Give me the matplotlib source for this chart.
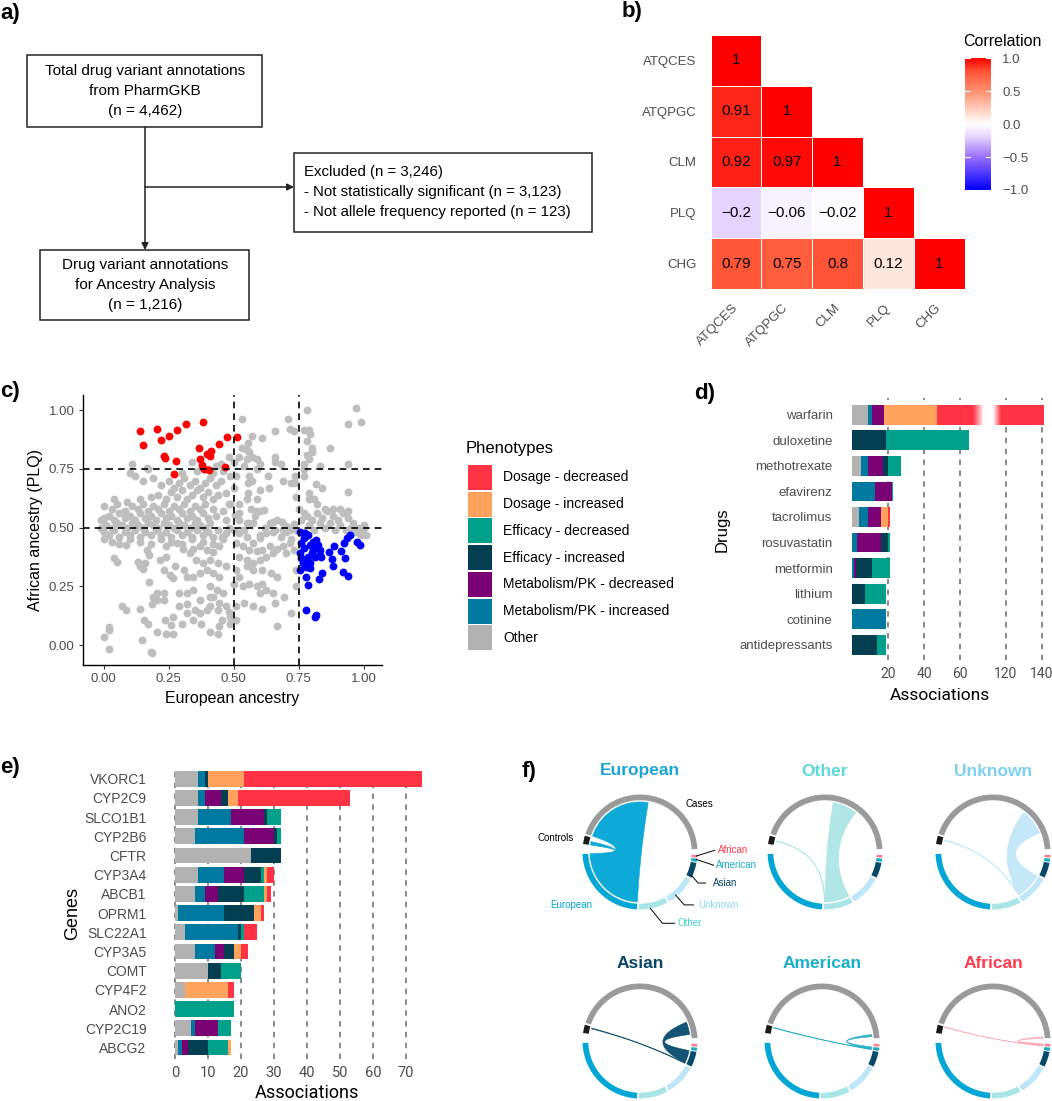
import numpy as np
import matplotlib
matplotlib.use('Agg')
import matplotlib.pyplot as plt
from matplotlib.patches import Rectangle, Wedge, Polygon
from matplotlib.colors import LinearSegmentedColormap

plt.rcParams['font.family'] = ['Liberation Sans', 'DejaVu Sans']
plt.rcParams['axes.unicode_minus'] = True

W, H = 1052, 1101
fig = plt.figure(figsize=(W / 100, H / 100), dpi=100)


def px_axes(l, t, r, b):
    return fig.add_axes([l / W, 1 - b / H, (r - l) / W, (b - t) / H])


GREY_TXT = '#4D4D4D'
ROBOTO = ['Roboto', 'DejaVu Sans']

# ---------------- data ----------------
corr_labels = ['ATQCES', 'ATQPGC', 'CLM', 'PLQ', 'CHG']
corr_rows = [[1],
             [0.91, 1],
             [0.92, 0.97, 1],
             [-0.2, -0.06, -0.02, 1],
             [0.79, 0.75, 0.8, 0.12, 1]]

red_pts = [(0.138, 0.912), (0.149, 0.850), (0.206, 0.918), (0.219, 0.872), (0.251, 0.889),
           (0.282, 0.915), (0.317, 0.939), (0.382, 0.948), (0.233, 0.804), (0.237, 0.794),
           (0.277, 0.784), (0.269, 0.728), (0.365, 0.838), (0.369, 0.790), (0.412, 0.827),
           (0.397, 0.813), (0.408, 0.804), (0.376, 0.766), (0.385, 0.748), (0.444, 0.857),
           (0.474, 0.887), (0.513, 0.887), (0.465, 0.756), (0.405, 0.745)]

blue_pts = [(0.754, 0.482), (0.773, 0.478), (0.760, 0.433), (0.769, 0.411), (0.792, 0.426),
            (0.805, 0.440), (0.815, 0.447), (0.824, 0.426), (0.831, 0.383), (0.837, 0.376),
            (0.799, 0.390), (0.786, 0.376), (0.760, 0.369), (0.767, 0.348), (0.777, 0.333),
            (0.792, 0.326), (0.754, 0.319), (0.779, 0.288), (0.786, 0.255), (0.828, 0.279),
            (0.841, 0.308), (0.867, 0.397), (0.877, 0.365), (0.882, 0.336), (0.887, 0.421),
            (0.913, 0.401), (0.923, 0.433), (0.929, 0.369), (0.921, 0.312), (0.940, 0.294),
            (0.936, 0.454), (0.946, 0.468), (0.974, 0.440), (0.985, 0.426), (0.776, 0.149),
            (0.812, 0.121), (0.818, 0.128), (0.805, 0.404), (0.812, 0.376), (0.773, 0.362),
            (0.792, 0.348), (0.756, 0.390), (0.833, 0.404), (0.769, 0.454), (0.786, 0.468),
            (0.818, 0.418)]

grey_pts = [
    (-0.01, 0.50), (-0.01, 0.53), (0.00, 0.48), (0.02, 0.47), (0.04, 0.49), (0.06, 0.46), (0.08, 0.48),
    (0.10, 0.47), (0.12, 0.49), (0.14, 0.46), (0.16, 0.48), (0.18, 0.47), (0.20, 0.49), (0.22, 0.47),
    (0.24, 0.48), (0.26, 0.46), (0.28, 0.49), (0.30, 0.47), (0.32, 0.48), (0.34, 0.46), (0.36, 0.49),
    (0.38, 0.47), (0.40, 0.48), (0.42, 0.46), (0.44, 0.49),
    (0.01, 0.51), (0.03, 0.50), (0.05, 0.52), (0.07, 0.51), (0.09, 0.50), (0.11, 0.52), (0.13, 0.51),
    (0.15, 0.50), (0.17, 0.52), (0.19, 0.51), (0.21, 0.50), (0.23, 0.52), (0.25, 0.51), (0.27, 0.50),
    (0.29, 0.52), (0.31, 0.51), (0.33, 0.50), (0.35, 0.52), (0.37, 0.51), (0.39, 0.50), (0.41, 0.52),
    (0.00, 0.54), (0.02, 0.55), (0.04, 0.53), (0.06, 0.56), (0.08, 0.54), (0.10, 0.55), (0.12, 0.53),
    (0.14, 0.56), (0.16, 0.54), (0.18, 0.55), (0.20, 0.53), (0.22, 0.56), (0.24, 0.54), (0.26, 0.55),
    (0.28, 0.53), (0.30, 0.56), (0.32, 0.54), (0.34, 0.55), (0.36, 0.53), (0.38, 0.56), (0.40, 0.54),
    (0.43, 0.55),
    (0.00, 0.59), (0.03, 0.58), (0.05, 0.60), (0.08, 0.57), (0.11, 0.59), (0.13, 0.58), (0.15, 0.60),
    (0.17, 0.57), (0.19, 0.59), (0.21, 0.58), (0.23, 0.60), (0.25, 0.57), (0.27, 0.59), (0.29, 0.58),
    (0.31, 0.60), (0.33, 0.57), (0.35, 0.59), (0.37, 0.58), (0.39, 0.60), (0.42, 0.58),
    (0.04, 0.62), (0.09, 0.61), (0.14, 0.62), (0.18, 0.63), (0.21, 0.64), (0.24, 0.62), (0.26, 0.65),
    (0.28, 0.63), (0.30, 0.66), (0.32, 0.62), (0.34, 0.64), (0.36, 0.66), (0.38, 0.63), (0.40, 0.65),
    (0.42, 0.62), (0.44, 0.64),
    (0.22, 0.68), (0.25, 0.70), (0.27, 0.67), (0.29, 0.69), (0.31, 0.71), (0.33, 0.68), (0.35, 0.70),
    (0.37, 0.67), (0.39, 0.69), (0.41, 0.71), (0.43, 0.68), (0.45, 0.70), (0.19, 0.71), (0.15, 0.70),
    (0.10, 0.73), (0.12, 0.72),
    (0.30, 0.73), (0.36, 0.74), (0.40, 0.75), (0.42, 0.73), (0.46, 0.74), (0.45, 0.77), (0.43, 0.76),
    (0.11, 0.77), (0.17, 0.75), (0.34, 0.78),
    (0.00, 0.45), (0.03, 0.44), (0.06, 0.43), (0.10, 0.45), (0.14, 0.44), (0.18, 0.43), (0.22, 0.45),
    (0.26, 0.44), (0.30, 0.43), (0.34, 0.45), (0.38, 0.44), (0.42, 0.43), (0.46, 0.45), (0.48, 0.50),
    (0.47, 0.53), (0.46, 0.57), (0.48, 0.60),
    (0.97, 1.01), (0.78, 1.00), (0.53, 0.96), (0.71, 0.96), (0.94, 0.94), (0.99, 0.95), (0.715, 0.92),
    (0.73, 0.91), (0.77, 0.915), (0.79, 0.915), (0.795, 0.90), (0.66, 0.91), (0.57, 0.89), (0.61, 0.88),
    (0.53, 0.84), (0.55, 0.83), (0.555, 0.86), (0.56, 0.82), (0.52, 0.80), (0.55, 0.79), (0.57, 0.80),
    (0.59, 0.79), (0.60, 0.77), (0.66, 0.80), (0.68, 0.77), (0.54, 0.76), (0.48, 0.80), (0.50, 0.78),
    (0.165, 0.755), (0.78, 0.87), (0.80, 0.84), (0.80, 0.82), (0.78, 0.81), (0.87, 0.84), (0.77, 0.77),
    (0.79, 0.79), (0.77, 0.75), (0.83, 0.76), (0.94, 0.77), (0.735, 0.72), (0.735, 0.69), (0.77, 0.72),
    (0.815, 0.685), (0.84, 0.67), (0.79, 0.645), (0.79, 0.62), (0.81, 0.62), (0.94, 0.65), (0.77, 0.56),
    (0.75, 0.58), (0.73, 0.515), (0.74, 0.49), (1.01, 0.47), (1.00, 0.51),
    (0.555, 0.645), (0.59, 0.62), (0.565, 0.58), (0.59, 0.57), (0.615, 0.575), (0.555, 0.69), (0.60, 0.66),
    (0.635, 0.67), (0.56, 0.72), (0.51, 0.72), (0.485, 0.72), (0.50, 0.67), (0.47, 0.645), (0.485, 0.60),
    (0.505, 0.555), (0.52, 0.53), (0.55, 0.52), (0.575, 0.52), (0.65, 0.525), (0.665, 0.53), (0.685, 0.525),
    (0.70, 0.505), (0.715, 0.49), (0.69, 0.49), (0.65, 0.48), (0.625, 0.475), (0.60, 0.455), (0.575, 0.435),
    (0.55, 0.46), (0.52, 0.475), (0.50, 0.49), (0.47, 0.475), (0.455, 0.46), (0.51, 0.435), (0.535, 0.42),
    (0.56, 0.405), (0.59, 0.40), (0.61, 0.405), (0.64, 0.42), (0.665, 0.41), (0.69, 0.42), (0.70, 0.39),
    (0.715, 0.435), (0.73, 0.405), (0.52, 0.375), (0.55, 0.36), (0.575, 0.35), (0.60, 0.36), (0.625, 0.375),
    (0.65, 0.39), (0.55, 0.335), (0.575, 0.32), (0.61, 0.32), (0.645, 0.305), (0.665, 0.29), (0.51, 0.32),
    (0.52, 0.29), (0.50, 0.26), (0.535, 0.25), (0.56, 0.26), (0.59, 0.25), (0.61, 0.26), (0.60, 0.22),
    (0.625, 0.235), (0.65, 0.22), (0.695, 0.205), (0.66, 0.18), (0.61, 0.155), (0.575, 0.165), (0.54, 0.18),
    (0.51, 0.165), (0.485, 0.12), (0.51, 0.105), (0.485, 0.09), (0.665, 0.08), (0.72, 0.135), (0.74, 0.25),
    (0.74, 0.32),
    (0.41, 0.25), (0.435, 0.235), (0.46, 0.22), (0.42, 0.205), (0.445, 0.18), (0.47, 0.165), (0.41, 0.165),
    (0.44, 0.15), (0.48, 0.14), (0.455, 0.105), (0.445, 0.08), (0.41, 0.055), (0.44, 0.045), (0.37, 0.135),
    (0.345, 0.105), (0.375, 0.09), (0.35, 0.15), (0.32, 0.175), (0.29, 0.165), (0.32, 0.135), (0.265, 0.12),
    (0.30, 0.09), (0.26, 0.085), (0.235, 0.105), (0.265, 0.045), (0.24, 0.045), (0.205, 0.055), (0.17, 0.09),
    (0.155, 0.105), (0.145, 0.02), (0.18, -0.03), (0.185, -0.035), (0.02, 0.075), (0.02, 0.065), (0.0, 0.035),
    (0.02, -0.015), (0.07, 0.165), (0.085, 0.15), (0.14, 0.155), (0.19, 0.205), (0.205, 0.19), (0.23, 0.19),
    (0.185, 0.175), (0.23, 0.22), (0.205, 0.22), (0.29, 0.22), (0.32, 0.22), (0.345, 0.235), (0.37, 0.19),
    (0.395, 0.15), (0.41, 0.205), (0.175, 0.27), (0.255, 0.30), (0.265, 0.285), (0.32, 0.29), (0.345, 0.29),
    (0.37, 0.305), (0.395, 0.32), (0.42, 0.305), (0.445, 0.29), (0.38, 0.35), (0.41, 0.36), (0.44, 0.35),
    (0.47, 0.335), (0.355, 0.36), (0.33, 0.39), (0.305, 0.41), (0.28, 0.435), (0.24, 0.42), (0.24, 0.375),
    (0.275, 0.335), (0.215, 0.36), (0.165, 0.405), (0.175, 0.385), (0.16, 0.35), (0.13, 0.355), (0.14, 0.335),
    (0.15, 0.325), (0.04, 0.37), (0.05, 0.355), (0.085, 0.425), (0.345, 0.41), (0.37, 0.42), (0.395, 0.405),
    (0.42, 0.395), (0.445, 0.42), (0.31, 0.32), (0.23, 0.32),
    (0.78, 0.55), (0.80, 0.53), (0.82, 0.56), (0.84, 0.54), (0.86, 0.57), (0.88, 0.55), (0.90, 0.53),
    (0.92, 0.56), (0.94, 0.54), (0.96, 0.52), (0.98, 0.50), (0.79, 0.51), (0.81, 0.49), (0.83, 0.52),
    (0.85, 0.50), (0.87, 0.52), (0.89, 0.49), (0.91, 0.51), (0.93, 0.49), (0.95, 0.50), (0.97, 0.48),
    (0.99, 0.47), (0.85, 0.58), (0.88, 0.58), (0.91, 0.58), (0.94, 0.57), (0.82, 0.60), (0.76, 0.53),
    (0.77, 0.48), (1.00, 0.50),
    (0.60, 0.47), (0.62, 0.50), (0.64, 0.52), (0.66, 0.49), (0.68, 0.46), (0.70, 0.48), (0.72, 0.45),
    (0.73, 0.50), (0.56, 0.52), (0.58, 0.55), (0.60, 0.57), (0.52, 0.56), (0.54, 0.49), (0.52, 0.60),
    (0.55, 0.62), (0.57, 0.70), (0.59, 0.75), (0.63, 0.72), (0.66, 0.78), (0.69, 0.70), (0.72, 0.69),
    (0.74, 0.63)]

pheno_names = ['Dosage - decreased', 'Dosage - increased', 'Efficacy - decreased',
               'Efficacy - increased', 'Metabolism/PK - decreased', 'Metabolism/PK - increased', 'Other']
pheno_colors = ['#FF3344', '#FFA35C', '#00A08A', '#033F50', '#7B0275', '#0079A0', '#B2B2B2']

drugs = ['warfarin', 'duloxetine', 'methotrexate', 'efavirenz', 'tacrolimus', 'rosuvastatin',
         'metformin', 'lithium', 'cotinine', 'antidepressants']
d_other = [9, 0, 5, 0, 4, 0, 0, 0, 0, 0]
d_mpk_inc = [2, 0, 4, 13, 5, 3, 1, 0, 19, 0]
d_mpk_dec = [7, 0, 8, 9, 7, 13, 1, 0, 0, 0]
d_eff_inc = [0, 19, 3, 0, 0, 4, 9, 7, 0, 14]
d_eff_dec = [0, 46, 7, 1, 0, 1, 10, 12, 0, 5]
d_dos_inc = [29, 0, 0, 0, 4, 0, 0, 0, 0, 0]
d_dos_dec = [94, 0, 0, 0, 1, 0, 0, 0, 0, 0]

genes = ['VKORC1', 'CYP2C9', 'SLCO1B1', 'CYP2B6', 'CFTR', 'CYP3A4', 'ABCB1', 'OPRM1',
         'SLC22A1', 'CYP3A5', 'COMT', 'CYP4F2', 'ANO2', 'CYP2C19', 'ABCG2']
e_other = [7, 7, 7, 6, 23, 7, 6, 1, 3, 6, 10, 3, 0, 5, 1]
e_mpk_inc = [2, 2, 10, 15, 0, 8, 3, 14, 16, 6, 0, 0, 0, 1, 1]
e_mpk_dec = [0, 5, 10, 9, 0, 6, 4, 0, 0, 3, 0, 0, 0, 7, 2]
e_eff_inc = [1, 2, 1, 1, 9, 5, 8, 9, 1, 3, 4, 0, 0, 0, 6]
e_eff_dec = [0, 0, 4, 1, 0, 1, 6, 0, 1, 0, 6, 0, 18, 4, 6]
e_dos_inc = [11, 3, 0, 0, 0, 1, 1, 2, 0, 2, 0, 13, 0, 0, 1]
e_dos_dec = [54, 34, 0, 0, 0, 2, 1, 1, 4, 2, 0, 2, 0, 0, 0]

anc_names = ['European', 'Other', 'Unknown', 'Asian', 'American', 'African']
anc_cases = [81, 28.5, 30, 14.5, 2.5, 2.0]
anc_ctrls = [4, 1, 1, 1, 0.8, 0.7]
anc_colors = ['#00A6D6', '#A8E5E4', '#BEE6F8', '#064A6B', '#1BAAC6', '#FF7C8A']
anc_title_colors = ['#1AA6D6', '#5CD8D6', '#7DD0F2', '#0A4566', '#1AAFC8', '#FF3B4E']
anc_link_alpha = [0.95, 0.9, 0.9, 0.95, 0.9, 0.5]

# ---------------- overlay (panel a, labels, legend) ----------------
ov = px_axes(0, 0, W, H)
ov.set_xlim(0, W)
ov.set_ylim(H, 0)
ov.axis('off')

for lab, x, y in [('a)', 0, 14), ('b)', 622, 11), ('c)', 0, 392), ('d)', 694, 393),
                  ('e)', 0, 767), ('f)', 522, 772)]:
    ov.text(x, y, lab, fontsize=16, fontweight='bold', ha='left', va='center')


def box(x0, y0, x1, y1):
    ov.add_patch(Rectangle((x0, y0), x1 - x0, y1 - y0, fill=False, lw=1.1, ec='#222222'))


box(27, 55, 262, 127)
for i, s in enumerate(['Total drug variant annotations', 'from PharmGKB', '(n = 4,462)']):
    ov.text(145, 71 + 20 * i, s, fontsize=11, ha='center', va='center')
box(294, 153, 592, 232)
for i, s in enumerate(['Excluded (n = 3,246)', '- Not statistically significant (n = 3,123)',
                       '- Not allele frequency reported (n = 123)']):
    ov.text(304, 172 + 20 * i, s, fontsize=10.8, ha='left', va='center')
box(40, 250, 249, 320)
for i, s in enumerate(['Drug variant annotations', 'for Ancestry Analysis', '(n = 1,216)']):
    ov.text(145, 265 + 20 * i, s, fontsize=11, ha='center', va='center')
arrow = dict(arrowstyle='-|>', lw=1.1, color='#222222', mutation_scale=10, shrinkA=0, shrinkB=0)
ov.annotate('', xy=(145, 250), xytext=(145, 127), arrowprops=arrow)
ov.annotate('', xy=(294, 187), xytext=(145, 187), arrowprops=arrow)

# legend of phenotypes
ov.text(466, 448, 'Phenotypes', fontsize=12, ha='left', va='center')
for i, (nm, col) in enumerate(zip(pheno_names, pheno_colors)):
    y0 = 465 + 26.7 * i
    ov.add_patch(Rectangle((468, y0), 24, 25, fc=col, ec='none'))
    ov.text(503, y0 + 12.5, nm, fontsize=10, ha='left', va='center')

# ---------------- panel b: correlation heatmap ----------------
corr_cmap = LinearSegmentedColormap.from_list(
    'corr', [(0, '#0000FF'), (0.25, '#9A70FF'), (0.4, '#E4D2FF'), (0.5, '#FFFFFF'),
             (0.56, '#FFE6DC'), (0.75, '#FF9070'), (0.9, '#FF5536'), (1, '#FF0000')])
n = len(corr_labels)
M = np.full((n, n), np.nan)
for i, row in enumerate(corr_rows):
    M[i, :len(row)] = row
axb = px_axes(710.7, 35, 964.5, 289)
axb.pcolormesh(np.arange(n + 1), np.arange(n + 1), np.ma.masked_invalid(M), cmap=corr_cmap,
               vmin=-1, vmax=1, edgecolors='white', linewidth=0.5)
axb.set_xlim(0, n)
axb.set_ylim(n, 0)
for i, row in enumerate(corr_rows):
    for j, v in enumerate(row):
        axb.text(j + 0.5, i + 0.5, f'{v:g}'.replace('-', '\u2212'), ha='center', va='center', fontsize=11)
axb.set_xticks(np.arange(n) + 0.5)
axb.set_xticklabels(corr_labels, rotation=45, ha='right', va='center', rotation_mode='anchor',
                    color=GREY_TXT, fontsize=9.5)
axb.set_yticks(np.arange(n) + 0.5)
axb.set_yticklabels(corr_labels, color=GREY_TXT, fontsize=9.5)
axb.tick_params(axis='y', length=0, pad=10)
axb.tick_params(axis='x', length=0, pad=12)
for s in axb.spines.values():
    s.set_visible(False)

axcb = px_axes(965, 58.3, 991, 190)
axcb.imshow(np.linspace(1, -1, 256).reshape(-1, 1), cmap=corr_cmap, vmin=-1, vmax=1,
            aspect='auto', extent=[0, 1, -1, 1])
cb_ticks = [1, 0.5, 0, -0.5, -1]
for t in cb_ticks:
    axcb.plot([0, 0.2], [t, t], color='white', lw=0.8)
    axcb.plot([0.8, 1], [t, t], color='white', lw=0.8)
axcb.set_xlim(0, 1)
axcb.set_ylim(-1, 1)
axcb.set_xticks([])
axcb.yaxis.tick_right()
axcb.set_yticks(cb_ticks)
axcb.set_yticklabels([f'{t:.1f}'.replace('-', '\u2212') for t in cb_ticks], color=GREY_TXT, fontsize=9.5)
axcb.tick_params(length=0, pad=8)
for s in axcb.spines.values():
    s.set_visible(False)
ov.text(963, 42, 'Correlation', fontsize=11.5, ha='left', va='center')

# ---------------- panel c: scatter ----------------
axc = px_axes(83, 395, 382, 665)
g = np.array(grey_pts)
r = np.array(red_pts)
b = np.array(blue_pts)
axc.scatter(g[:, 0], g[:, 1], s=32, color='#BEBEBE', lw=0, zorder=1)
axc.scatter(r[:, 0], r[:, 1], s=32, color='#FF0000', lw=0, zorder=2)
axc.scatter(b[:, 0], b[:, 1], s=32, color='#0000FF', lw=0, zorder=2)
for v in (0.5, 0.75):
    axc.axvline(v, color='black', ls=(0, (4, 3)), lw=1.2, zorder=3)
    axc.axhline(v, color='black', ls=(0, (4, 3)), lw=1.2, zorder=3)
axc.set_xlim(-0.08, 1.07)
axc.set_ylim(-0.085, 1.064)
ticks_c = [0, 0.25, 0.5, 0.75, 1.0]
axc.set_xticks(ticks_c)
axc.set_yticks(ticks_c)
axc.set_xticklabels([f'{t:.2f}' for t in ticks_c], color=GREY_TXT, fontsize=9.5)
axc.set_yticklabels([f'{t:.2f}' for t in ticks_c], color=GREY_TXT, fontsize=9.5)
axc.tick_params(length=3, width=0.8, pad=3, color='#333333')
for s in ('top', 'right'):
    axc.spines[s].set_visible(False)
for s in ('left', 'bottom'):
    axc.spines[s].set_linewidth(1.0)
axc.set_xlabel('European ancestry', fontsize=11.5, labelpad=4)
axc.set_ylabel('African ancestry (PLQ)', fontsize=11.5, labelpad=4)

stack_order = [6, 5, 4, 3, 2, 1, 0]  # Other, MPK inc, MPK dec, Eff inc, Eff dec, Dos inc, Dos dec


def stacked(ax, series, height):
    y = np.arange(len(series[0]))
    left = np.zeros(len(y))
    for vals, ci in zip(series, stack_order):
        vals = np.array(vals, float)
        ax.barh(y, vals, left=left, color=pheno_colors[ci], height=height, lw=0, zorder=2)
        left += vals


# ---------------- panel d: drugs (broken axis) ----------------
d_series = [d_other, d_mpk_inc, d_mpk_dec, d_eff_inc, d_eff_dec, d_dos_inc, d_dos_dec]
axd1 = px_axes(852, 398, 983.4, 660)
axd2 = px_axes(993.4, 398, 1050, 660)
for ax, lim, ticks in [(axd1, (0, 73), [20, 40, 60]), (axd2, (113, 144.5), [120, 140])]:
    stacked(ax, d_series, 0.78)
    for t in ticks:
        ax.axvline(t, color='#808080', ls=(0, (3, 3)), lw=1.3, zorder=0)
    ax.set_xticks(ticks)
    ax.set_xticklabels([str(t) for t in ticks], fontsize=10, color=GREY_TXT, family=ROBOTO)
    ax.tick_params(length=0, pad=5)
    for s in ax.spines.values():
        s.set_visible(False)
fade = np.ones((1, 64, 4))
fade[..., 3] = np.linspace(0, 1, 64)
axd1.imshow(fade, extent=[67, 73, 0.42, -0.42], aspect='auto', zorder=3, interpolation='bilinear')
fade2 = fade.copy()
fade2[..., 3] = np.linspace(1, 0, 64)
axd2.imshow(fade2, extent=[113, 117, 0.42, -0.42], aspect='auto', zorder=3, interpolation='bilinear')
for ax, lim in [(axd1, (0, 73)), (axd2, (113, 144.5))]:
    ax.set_xlim(*lim)
    ax.set_ylim(9.6, -0.66)
axd1.set_yticks(np.arange(len(drugs)))
axd1.set_yticklabels(drugs, fontsize=9.5, color=GREY_TXT)
axd1.tick_params(axis='y', pad=14)
axd2.set_yticks([])
ov.text(722, 530, 'Drugs', fontsize=12, rotation=90, ha='center', va='center')
ov.text(940, 695, 'Associations', fontsize=12.5, ha='center', va='center', family=ROBOTO)

# ---------------- panel e: genes ----------------
e_series = [e_other, e_mpk_inc, e_mpk_dec, e_eff_inc, e_eff_dec, e_dos_inc, e_dos_dec]
axe = px_axes(171.7, 767, 428.9, 1059)
stacked(axe, e_series, 0.83)
for t in range(0, 80, 10):
    axe.axvline(t, color='#808080', ls=(0, (3, 3)), lw=1.3, zorder=0)
axe.set_xlim(-1, 77)
axe.set_ylim(14.6, -0.61)
axe.set_xticks(range(0, 80, 10))
axe.set_xticklabels([str(t) for t in range(0, 80, 10)], fontsize=10.5, color=GREY_TXT, family=ROBOTO)
axe.set_yticks(np.arange(len(genes)))
axe.set_yticklabels(genes, fontsize=10, color=GREY_TXT)
axe.tick_params(length=0)
axe.tick_params(axis='x', pad=5)
axe.tick_params(axis='y', pad=18)
for s in axe.spines.values():
    s.set_visible(False)
ov.text(73, 913, 'Genes', fontsize=13, rotation=90, ha='center', va='center')
ov.text(307, 1093, 'Associations', fontsize=13, ha='center', va='center', family=ROBOTO)

# ---------------- panel f: chord diagrams ----------------
R_OUT, R_IN, R_LINK = 1.0, 0.9, 0.87
sec = {}
ang = 172.0
sec['Controls'] = (ang, ang - sum(anc_ctrls))
ang = sec['Controls'][1] - 2
sec['Cases'] = (ang, ang - sum(anc_cases))
ang = sec['Cases'][1] - 6 + 360
gap_after = {'African': 1, 'American': 1, 'Asian': 2, 'Unknown': 2, 'Other': 2, 'European': 0}
for name in ['African', 'American', 'Asian', 'Unknown', 'Other', 'European']:
    i = anc_names.index(name)
    tot = anc_cases[i] + anc_ctrls[i]
    sec[name] = (ang, ang - tot)
    ang = ang - tot - gap_after[name]
sec_color = {'Controls': '#1A1A1A', 'Cases': '#9A9A9A'}
sec_color.update(dict(zip(anc_names, anc_colors)))

case_link, ctrl_link, anc_case_link, anc_ctrl_link = [], [], [], []
cpos = sec['Cases'][0]
kpos = sec['Controls'][0]
for i, name in enumerate(anc_names):
    case_link.append((cpos, cpos - anc_cases[i]))
    cpos -= anc_cases[i]
    ctrl_link.append((kpos, kpos - anc_ctrls[i]))
    kpos -= anc_ctrls[i]
    s0 = sec[name][0]
    anc_case_link.append((s0, s0 - anc_cases[i]))
    anc_ctrl_link.append((s0 - anc_cases[i], sec[name][1]))


def polar(a, rr):
    t = np.radians(a)
    return np.array([rr * np.cos(t), rr * np.sin(t)])


def arc(a0, a1, rr, npt=60):
    t = np.radians(np.linspace(a0, a1, npt))
    return np.column_stack([rr * np.cos(t), rr * np.sin(t)])


def bezier(p0, p2, npt=60):
    t = np.linspace(0, 1, npt)[:, None]
    return (1 - t) ** 2 * p0 + t ** 2 * p2


def ribbon(ax, a, bb, color, alpha):
    pts = np.vstack([arc(a[0], a[1], R_LINK),
                     bezier(polar(a[1], R_LINK), polar(bb[0], R_LINK)),
                     arc(bb[0], bb[1], R_LINK),
                     bezier(polar(bb[1], R_LINK), polar(a[0], R_LINK))])
    ax.add_patch(Polygon(pts, closed=True, fc=color, ec=color, lw=0.4, alpha=alpha))


centers = {'European': (640, 852), 'Other': (825, 852), 'Unknown': (993, 852),
           'Asian': (640, 1041), 'American': (822, 1041), 'African': (993, 1041)}
RPX = 57.5
chord_axes = {}
for i, name in enumerate(anc_names):
    cx, cy = centers[name]
    ax = px_axes(cx - 75, cy - 75, cx + 75, cy + 75)
    lim = 75 / RPX
    ax.set_xlim(-lim, lim)
    ax.set_ylim(-lim, lim)
    ax.axis('off')
    for sname, (a0, a1) in sec.items():
        ax.add_patch(Wedge((0, 0), R_OUT, a1, a0, width=R_OUT - R_IN, fc=sec_color[sname], lw=0))
    ribbon(ax, case_link[i], anc_case_link[i], anc_colors[i], anc_link_alpha[i])
    ribbon(ax, ctrl_link[i], anc_ctrl_link[i], anc_colors[i], anc_link_alpha[i])
    ov.text(cx, cy - 81 if cy < 900 else cy - 77.5, name, fontsize=12.5, fontweight='bold',
            color=anc_title_colors[i], ha='center', va='center')
    chord_axes[name] = ax

axe_f = chord_axes['European']
small = dict(fontsize=7, va='center')
axe_f.text(0.80, 0.84, 'Cases', ha='left', color='black', **small)
axe_f.text(-1.15, 0.25, 'Controls', ha='right', color='black', **small)
axe_f.text(-1.2, -0.92, 'European', ha='center', color=anc_colors[0], **small)
leaders = [('African', [(0.98, -0.07), (1.30, 0.03)], (1.35, 0.03), '#FF3B4E'),
           ('American', [(0.98, -0.13), (1.28, -0.23)], (1.32, -0.22), '#1AAFC8'),
           ('Asian', [(0.89, -0.40), (1.01, -0.54), (1.14, -0.54)], (1.27, -0.54), '#0A4566'),
           ('Unknown', [(0.62, -0.75), (0.77, -0.92), (0.93, -0.92)], (1.02, -0.92), '#8FD6F5'),
           ('Other', [(0.18, -0.98), (0.39, -1.24), (0.60, -1.24)], (0.66, -1.23), '#40CFCF')]
for lab, pts, pos, col in leaders:
    p = np.array(pts)
    axe_f.plot(p[:, 0], p[:, 1], color='black', lw=0.7, clip_on=False)
    axe_f.text(pos[0], pos[1], lab, ha='left', color=col, clip_on=False, **small)

fig.savefig('out.png', dpi=100)
